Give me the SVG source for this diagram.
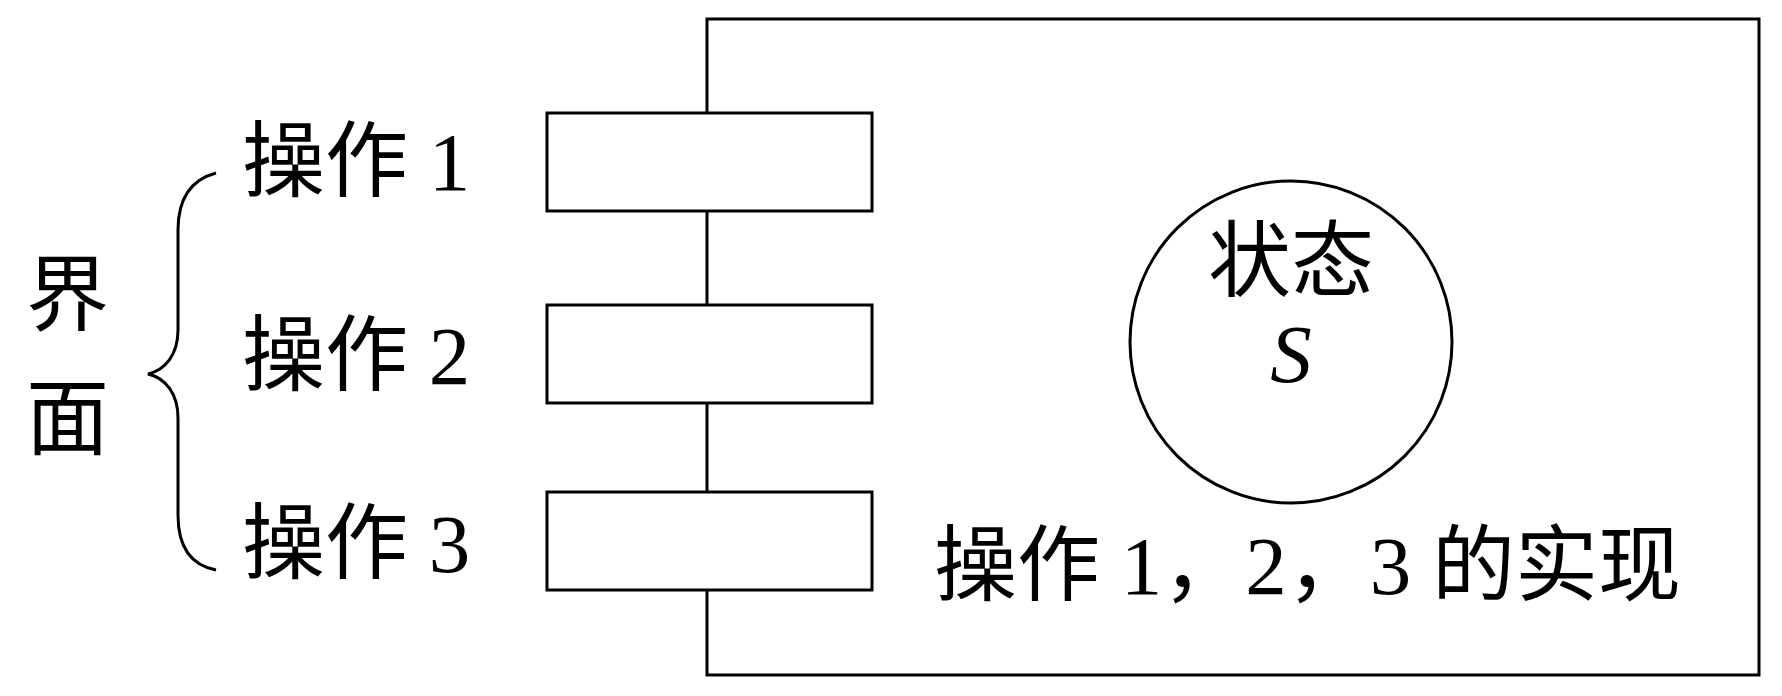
<svg xmlns="http://www.w3.org/2000/svg" width="1782" height="696" viewBox="0 0 1782 696">
<style>
.s{fill:none;stroke:#000;stroke-width:3}
.b{fill:#fff;stroke:#000;stroke-width:3}
.t{font-family:"Liberation Serif","Noto Sans CJK SC",serif;font-size:83px;fill:#000}
</style>
<rect width="1782" height="696" fill="#fff"/>
<g id="module"><rect class="s" x="707" y="19" width="1052" height="656"/></g>
<g id="op1"><rect class="b" x="547" y="113" width="325" height="98"/><text class="t" x="242" y="190">操作 1</text></g>
<g id="op2"><rect class="b" x="547" y="305" width="325" height="98"/><text class="t" x="242" y="384">操作 2</text></g>
<g id="op3"><rect class="b" x="547" y="492" width="325" height="98"/><text class="t" x="242" y="572">操作 3</text></g>
<g id="state"><circle class="s" cx="1291" cy="342" r="161"/><text class="t" x="1291" y="290" text-anchor="middle">状态</text><text class="t" x="1291" y="382" text-anchor="middle" font-style="italic">S</text></g>
<g id="impl"><text class="t" x="934" y="594">操作 1，2，3 的实现</text></g>
<g id="iface"><text class="t" x="26" y="324">界</text><text class="t" x="26" y="448">面</text>
<path class="s" d="M216 173 C190 180 178 200 178 230 L178 330 C178 355 165 370 148 374 C165 378 178 393 178 418 L178 515 C178 545 190 565 216 570"/></g>
</svg>
